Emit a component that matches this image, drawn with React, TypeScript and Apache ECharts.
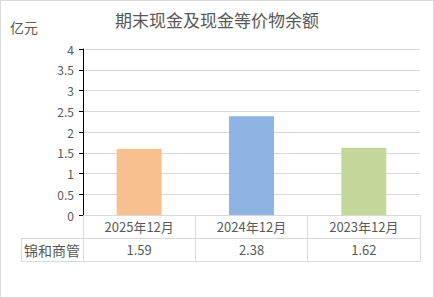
import React, { useEffect, useRef } from "react";
import * as echarts from "echarts";

const categories = ["2025年12月", "2024年12月", "2023年12月"];
const values = [1.59, 2.38, 1.62];
const barColors = ["#F9C08F", "#8DB4E2", "#C4D79B"];
const rowName = "锦和商管";
const title = "期末现金及现金等价物余额";
const unit = "亿元";

const W = 434;
const H = 298;
const gridLeft = 83;
const gridRight = 420;
const gridTop = 49;
const gridBottom = 215;
const rowH = 23;
const tableLeft = 21;
const FONT = "'Noto Sans CJK SC', 'Microsoft YaHei', sans-serif";
const LINE = "#D9D9D9";
const TXT = "#595959";

export default function App() {
  const ref = useRef<HTMLDivElement>(null);
  useEffect(() => {
    if (!ref.current) return;
    const chart = echarts.init(ref.current, null, { renderer: "svg" });
    chart.setOption({
      animation: false,
      backgroundColor: "transparent",
      title: {
        text: title,
        left: "center",
        top: 6,
        textStyle: { fontFamily: FONT, fontSize: 17, fontWeight: "normal", color: TXT },
      },
      grid: { left: gridLeft, right: W - gridRight, top: gridTop, bottom: H - gridBottom, containLabel: false },
      xAxis: [
        {
          type: "category",
          data: categories,
          position: "bottom",
          axisLine: { show: true, lineStyle: { color: LINE, width: 1 } },
          axisTick: { show: true, length: rowH * 2, lineStyle: { color: LINE, width: 1 } },
          axisLabel: { fontFamily: FONT, fontSize: 13, color: TXT, margin: 5 },
        },
        {
          type: "category",
          data: categories,
          position: "bottom",
          offset: rowH,
          axisLine: { show: false },
          axisTick: { show: false },
          axisLabel: {
            fontFamily: FONT,
            fontSize: 13,
            color: TXT,
            margin: 5,
            formatter: (_v: string, i: number) => values[i].toFixed(2),
          },
        },
      ],
      yAxis: {
        type: "value",
        min: 0,
        max: 4,
        interval: 0.5,
        axisLine: { show: true, lineStyle: { color: "#000", width: 1 } },
        axisTick: { show: true, length: 4, lineStyle: { color: "#000" } },
        axisLabel: { fontFamily: FONT, fontSize: 12, color: TXT, margin: 9 },
        splitLine: { show: true, lineStyle: { color: LINE, width: 1 } },
      },
      series: [
        {
          type: "bar",
          xAxisIndex: 0,
          barWidth: 45,
          data: values.map((v, i) => ({ value: v, itemStyle: { color: barColors[i] } })),
        },
      ],
      graphic: [
        {
          type: "text",
          left: 10,
          top: 20,
          style: { text: unit, fontFamily: FONT, fontSize: 14, fill: TXT },
        },
        {
          type: "line",
          shape: { x1: tableLeft, y1: gridBottom + rowH + 0.5, x2: gridRight, y2: gridBottom + rowH + 0.5 },
          style: { stroke: LINE, lineWidth: 1 },
        },
        {
          type: "line",
          shape: { x1: tableLeft, y1: gridBottom + rowH * 2 + 0.5, x2: gridRight, y2: gridBottom + rowH * 2 + 0.5 },
          style: { stroke: LINE, lineWidth: 1 },
        },
        {
          type: "line",
          shape: { x1: tableLeft + 0.5, y1: gridBottom + rowH, x2: tableLeft + 0.5, y2: gridBottom + rowH * 2 },
          style: { stroke: LINE, lineWidth: 1 },
        },
        {
          type: "text",
          x: (tableLeft + gridLeft) / 2,
          y: gridBottom + rowH * 1.5,
          style: {
            text: rowName,
            fontFamily: FONT,
            fontSize: 14,
            fill: TXT,
            align: "center",
            verticalAlign: "middle",
          },
        },
      ],
    });
    return () => chart.dispose();
  }, []);
  return (
    <div
      style={{
        position: "absolute",
        left: 0,
        top: 0,
        width: W,
        height: H,
        boxSizing: "border-box",
        border: "1px solid #D9D9D9",
        background: "#fff",
      }}
    >
      <div ref={ref} style={{ position: "absolute", left: -1, top: -1, width: W, height: H }} />
    </div>
  );
}
